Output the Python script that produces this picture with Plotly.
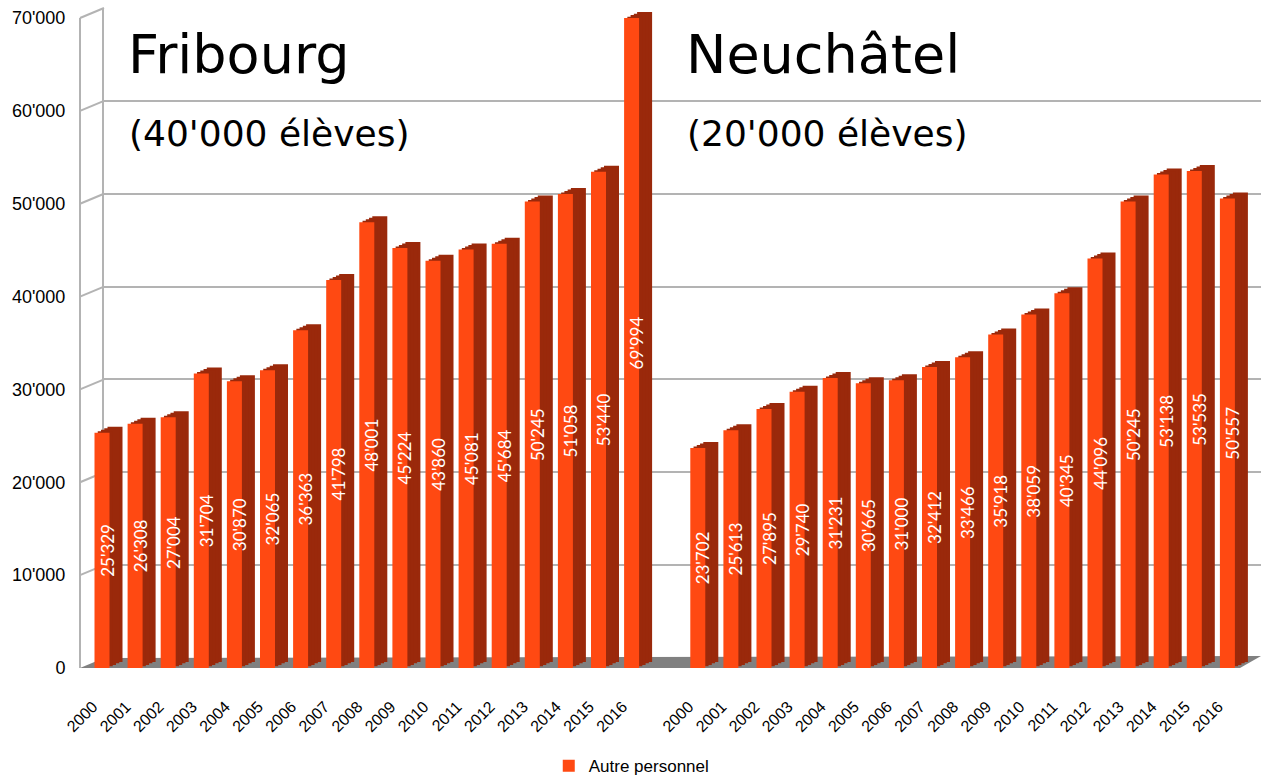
import plotly.graph_objects as go

# ---------------- data ----------------
years = ["2000", "2001", "2002", "2003", "2004", "2005", "2006", "2007", "2008",
         "2009", "2010", "2011", "2012", "2013", "2014", "2015", "2016"]
fribourg = [25329, 26308, 27004, 31704, 30870, 32065, 36363, 41798, 48001,
            45224, 43860, 45081, 45684, 50245, 51058, 53440, 69994]
neuchatel = [23702, 25613, 27895, 29740, 31231, 30665, 31000, 32412, 33466,
             35918, 38059, 40345, 44096, 50245, 53138, 53535, 50557]
series_name = "Autre personnel"
y_tick_values = [0, 10000, 20000, 30000, 40000, 50000, 60000, 70000]
y_tick_labels = ["0", "10'000", "20'000", "30'000", "40'000", "50'000", "60'000", "70'000"]
titles = [("Fribourg", "(40'000 élèves)"), ("Neuchâtel", "(20'000 élèves)")]

# ---------------- geometry / style ----------------
W, H = 1261, 775
YMAX = 70000
FRONT_COL = "#ff4912"
SIDE_COL = "#9a290b"
GRID_COL = "#b3b3b3"


def pxx(p):
    return p / W


def pxy(p):
    return 1 - p / H


SLOT0, SLOT = 102, 33.1
FRONT_X = (0, 1236)
FRONT_Y = (668, 18)   # pixel rows of 0 and YMAX on the front plane
BACK_DX, BACK_DY = 24, 10
xr = [(FRONT_X[0] - SLOT0) / SLOT, (FRONT_X[1] - SLOT0) / SLOT]

gap = 1
positions = list(range(len(years))) + [len(years) + gap + i for i in range(len(years))]
values = fribourg + neuchatel
xlabels = years + years
texts = [f"{v:,}".replace(",", "'") for v in values]
BAR_W = 15 / SLOT

fig = go.Figure()
layout = {}


def axes(n, dx, dy):
    s = "" if n == 1 else str(n)
    layout[f"xaxis{s}"] = dict(domain=[pxx(FRONT_X[0] + dx), pxx(FRONT_X[1] + dx)],
                               range=xr, anchor=f"y{s}", visible=False, fixedrange=True,
                               automargin=False)
    layout[f"yaxis{s}"] = dict(domain=[pxy(FRONT_Y[0] - dy), pxy(FRONT_Y[1] - dy)],
                               range=[0, YMAX], anchor=f"x{s}", visible=False, fixedrange=True,
                               automargin=False)
    return s


# 1: back wall (gridlines)
layout["xaxis"] = dict(domain=[pxx(80 + BACK_DX), 1], range=[0, 1],
                       anchor="y", visible=False, automargin=False)
layout["yaxis"] = dict(domain=[pxy(FRONT_Y[0] - BACK_DY), pxy(FRONT_Y[1] - BACK_DY)],
                       range=[0, YMAX], anchor="x", tickvals=y_tick_values,
                       showticklabels=False, showgrid=True, gridcolor=GRID_COL,
                       gridwidth=2, zeroline=False, showline=True, linecolor=GRID_COL,
                       linewidth=2, ticks="", automargin=False)
fig.add_trace(go.Scatter(x=[], y=[], xaxis="x", yaxis="y", showlegend=False))

# 2..5: bar depth (dark side) layers, deepest first
DEPTH_DX, DEPTH_DY = 13, 6
NL = 4
for j, k in enumerate(range(NL, 0, -1)):
    n = 2 + j
    s = axes(n, DEPTH_DX * k / NL, DEPTH_DY * k / NL)
    fig.add_trace(go.Bar(x=positions, y=values, width=BAR_W, xaxis=f"x{s}", yaxis=f"y{s}",
                         marker=dict(color=SIDE_COL, line=dict(width=0)),
                         showlegend=False, hoverinfo="skip"))

# 6: front faces
s = axes(6, 0, 0)
layout["xaxis6"].update(visible=True, showgrid=False, zeroline=False, showline=False,
                        tickvals=positions, ticktext=xlabels, tickangle=-45,
                        ticks="outside", ticklen=4, tickcolor="rgba(0,0,0,0)",
                        ticklabelshift=-9, ticklabelstandoff=18,
                        tickfont=dict(family="Liberation Sans", size=16, color="black"))
layout["yaxis6"].update(visible=True, anchor="free", position=pxx(80), showgrid=False,
                        zeroline=False, showline=True, linecolor=GRID_COL, linewidth=2,
                        tickvals=y_tick_values, ticktext=y_tick_labels,
                        ticks="outside", ticklen=10, tickcolor="rgba(0,0,0,0)",
                        tickfont=dict(family="Liberation Sans", size=18, color="black"))
fig.add_trace(go.Bar(x=positions, y=values, width=BAR_W, xaxis="x6", yaxis="y6",
                     name=series_name, marker=dict(color=FRONT_COL, line=dict(width=0)),
                     showlegend=True, hoverinfo="skip"))

# 7: value labels (centred on the 3D bar)
s = axes(7, 5, 0)
fig.add_trace(go.Bar(x=positions, y=values, width=BAR_W, xaxis="x7", yaxis="y7",
                     marker=dict(color="rgba(0,0,0,0)", line=dict(width=0)),
                     text=texts, textposition="inside", insidetextanchor="middle",
                     textangle=-90, constraintext="none",
                     textfont=dict(family="Lato", size=17, color="white"),
                     showlegend=False, hoverinfo="skip"))

# floor and left-wall connectors
shapes = []
shapes.append(dict(type="path", xref="paper", yref="paper", layer="below",
                   path=f"M {pxx(80)},{pxy(668)} L {pxx(1240)},{pxy(668)} "
                        f"L {pxx(1261)},{pxy(656)} L {pxx(104)},{pxy(658)} Z",
                   fillcolor="#808080", line=dict(width=0)))
for v in y_tick_values[1:]:
    yf = FRONT_Y[0] + (FRONT_Y[1] - FRONT_Y[0]) * v / YMAX
    shapes.append(dict(type="line", xref="paper", yref="paper", layer="below",
                       x0=pxx(80), y0=pxy(yf), x1=pxx(80 + BACK_DX), y1=pxy(yf - BACK_DY),
                       line=dict(color=GRID_COL, width=2)))

annotations = []
for (big, small), xl in zip(titles, [130, 688]):
    annotations.append(dict(text=big, x=pxx(xl - 4), y=pxy(54), xref="paper", yref="paper",
                            xanchor="left", yanchor="middle", showarrow=False,
                            font=dict(family="DejaVu Sans", size=54, color="black")))
    annotations.append(dict(text=small, x=pxx(xl - 3), y=pxy(133), xref="paper", yref="paper",
                            xanchor="left", yanchor="middle", showarrow=False,
                            font=dict(family="DejaVu Sans", size=36, color="black")))

fig.update_layout(
    **layout,
    template="none",
    width=W, height=H,
    autosize=False,
    margin=dict(l=0, r=0, t=0, b=0, pad=0, autoexpand=False),
    paper_bgcolor="white", plot_bgcolor="rgba(0,0,0,0)",
    font=dict(family="Liberation Sans", color="black"),
    barmode="overlay",
    uniformtext=dict(minsize=17, mode="show"),
    shapes=shapes, annotations=annotations,
    showlegend=True,
    legend=dict(orientation="h", x=0.501, xanchor="center", y=-0.012, yanchor="bottom",
                font=dict(family="Liberation Sans", size=17, color="black"),
                bgcolor="rgba(0,0,0,0)"),
)

fig.write_html("out.html", config={"displayModeBar": False},
               post_script="document.body.style.margin='0px';")
